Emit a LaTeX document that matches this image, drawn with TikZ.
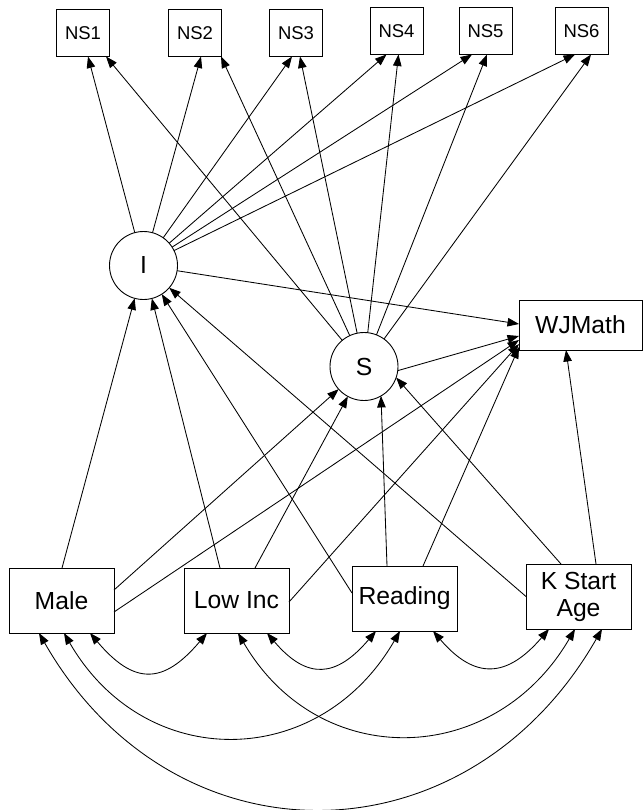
\documentclass[tikz,border=0pt]{standalone}
\usepackage{fontspec}
\setmainfont{Liberation Sans}
\usetikzlibrary{arrows.meta,calc}
\begin{document}
\begin{tikzpicture}[x=1pt,y=-1pt,
  every node/.style={inner sep=0pt, outer sep=0pt},
  obs/.style={draw, line width=0.9pt, minimum width=105pt, minimum height=65pt, font=\fontsize{24.7}{27}\selectfont, align=center},
  nsbox/.style={draw, line width=0.9pt, minimum width=53pt, minimum height=47pt, font=\fontsize{18.5}{20}\selectfont},
  wjbox/.style={draw, line width=0.9pt, minimum width=123pt, minimum height=50pt, font=\fontsize{24.7}{27}\selectfont},
  latent/.style={draw, circle, line width=0.9pt, minimum size=68pt, font=\fontsize{24.7}{27}\selectfont},
  reg/.style={line width=0.85pt, -{Triangle[length=11.5pt,width=8.5pt]}},
  cov/.style={line width=0.85pt, {Triangle[length=11.5pt,width=8.5pt]}-{Triangle[length=11.5pt,width=8.5pt]}}]
\useasboundingbox (0,0) rectangle (644,810);
% nodes
\node[nsbox] (ns1) at (83,33) {NS1};
\node[nsbox] (ns2) at (195,33) {NS2};
\node[nsbox] (ns3) at (296,33) {NS3};
\node[nsbox] (ns4) at (396.5,31) {NS4};
\node[nsbox] (ns5) at (485.5,31) {NS5};
\node[nsbox] (ns6) at (581.5,31) {NS6};
\node[latent] (I) at (143.5,265.5) {I};
\node[latent] (S) at (364,366.5) {S};
\node[wjbox] (wj) at (580.5,325) {WJMath};
\node[obs] (male) at (61.5,600.5) {Male};
\node[obs] (lowinc) at (236.5,600.5) {Low Inc};
\node[obs] (reading) at (404.5,598.5) {Reading};
\node[obs] (kstart) at (578.5,596.5) {K Start\\Age};
% tips on NS boxes
\coordinate (n1i) at ($(ns1.south)+(5,0)$);
\coordinate (n1s) at ($(ns1.south)+(23,0)$);
\coordinate (n2i) at ($(ns2.south)+(6,0)$);
\coordinate (n2s) at ($(ns2.south)+(26,0)$);
\coordinate (n3i) at ($(ns3.south)+(-4,0)$);
\coordinate (n3s) at ($(ns3.south)+(4,0)$);
\coordinate (n4i) at ($(ns4.south)+(-10,0)$);
\coordinate (n4s) at ($(ns4.south)+(2,0)$);
\coordinate (n5i) at ($(ns5.south)+(-13.5,0)$);
\coordinate (n5s) at ($(ns5.south)+(1.5,0)$);
\coordinate (n6i) at ($(ns6.south)+(-6.5,0)$);
\coordinate (n6s) at ($(ns6.south)+(9.5,0)$);
% tips on WJMath
\coordinate (wi) at ($(wj.west)+(0,-1)$);
\coordinate (ws) at ($(wj.west)+(0,11)$);
\coordinate (wm) at ($(wj.west)+(0,15)$);
\coordinate (wl) at ($(wj.west)+(0,19)$);
\coordinate (wr) at ($(wj.west)+(0,22)$);
\coordinate (wk) at ($(wj.south)+(-14.5,0)$);
% starts on observed boxes
\coordinate (mI) at ($(male.north)+(0.5,0)$);
\coordinate (mS) at ($(male.east)+(0,-10.5)$);
\coordinate (mW) at ($(male.east)+(0,11.5)$);
\coordinate (lI) at ($(lowinc.north)+(-16.5,0)$);
\coordinate (lS) at ($(lowinc.north)+(18.5,0)$);
\coordinate (lW) at ($(lowinc.east)+(0,1.5)$);
\coordinate (rI) at ($(reading.west)+(0,-5.5)$);
\coordinate (rS) at ($(reading.north)+(-17.5,0)$);
\coordinate (rW) at ($(reading.north)+(18.5,0)$);
\coordinate (kI) at (kstart.west);
\coordinate (kS) at ($(kstart.north)+(-17.5,0)$);
\coordinate (kW) at ($(kstart.north)+(17.5,0)$);
% I and S loadings
\draw[reg] (I) -- (n1i);
\draw[reg] (I) -- (n2i);
\draw[reg] (I) -- (n3i);
\draw[reg] (I) -- (n4i);
\draw[reg] (I) -- (n5i);
\draw[reg] (I) -- (n6i);
\draw[reg] (S) -- (n1s);
\draw[reg] (S) -- (n2s);
\draw[reg] (S) -- (n3s);
\draw[reg] (S) -- (n4s);
\draw[reg] (S) -- (n5s);
\draw[reg] (S) -- (n6s);
\draw[reg] (I) -- (wi);
\draw[reg] (S.-7) -- (ws);
% predictors
\draw[reg] (mI) -- (I);
\draw[reg] (mS) -- (S);
\draw[reg] (mW) -- (wm);
\draw[reg] (lI) -- (I);
\draw[reg] (lS) -- (S);
\draw[reg] (lW) -- (wl);
\draw[reg] (rI) -- (I);
\draw[reg] (rS) -- (S.-60);
\draw[reg] (rW) -- (wr);
\draw[reg] (kI) -- (I);
\draw[reg] (kS) -- (S.-19);
\draw[reg] (kW) -- (wk);
% covariance tips
\coordinate (m1) at ($(male.south)+(-22.5,0)$);
\coordinate (m2) at ($(male.south)+(2.5,0)$);
\coordinate (m3) at ($(male.south)+(28.5,0)$);
\coordinate (l1) at ($(lowinc.south)+(-29.5,0)$);
\coordinate (l2) at ($(lowinc.south)+(1.5,0)$);
\coordinate (l3) at ($(lowinc.south)+(30.5,0)$);
\coordinate (r1) at ($(reading.south)+(-28.5,0)$);
\coordinate (r2) at ($(reading.south)+(-4.5,0)$);
\coordinate (r3) at ($(reading.south)+(28.5,0)$);
\coordinate (k1) at ($(kstart.south)+(-29.5,0)$);
\coordinate (k2) at ($(kstart.south)+(-3.5,0)$);
\coordinate (k3) at ($(kstart.south)+(23.5,0)$);
\draw[cov] (m3) .. controls +(44,52) and +(-44,52) .. (l1);
\draw[cov] (l3) .. controls +(40,47) and +(-40,47) .. (r1);
\draw[cov] (r3) .. controls +(42,49) and +(-42,49) .. (k1);
\draw[cov] (m2) .. controls +(81,140) and +(-81,140) .. (r2);
\draw[cov] (l2) .. controls +(81,139) and +(-81,139) .. (k2);
\draw[cov] (m1) .. controls +(135,236) and +(-135,236) .. (k3);
\end{tikzpicture}
\end{document}
